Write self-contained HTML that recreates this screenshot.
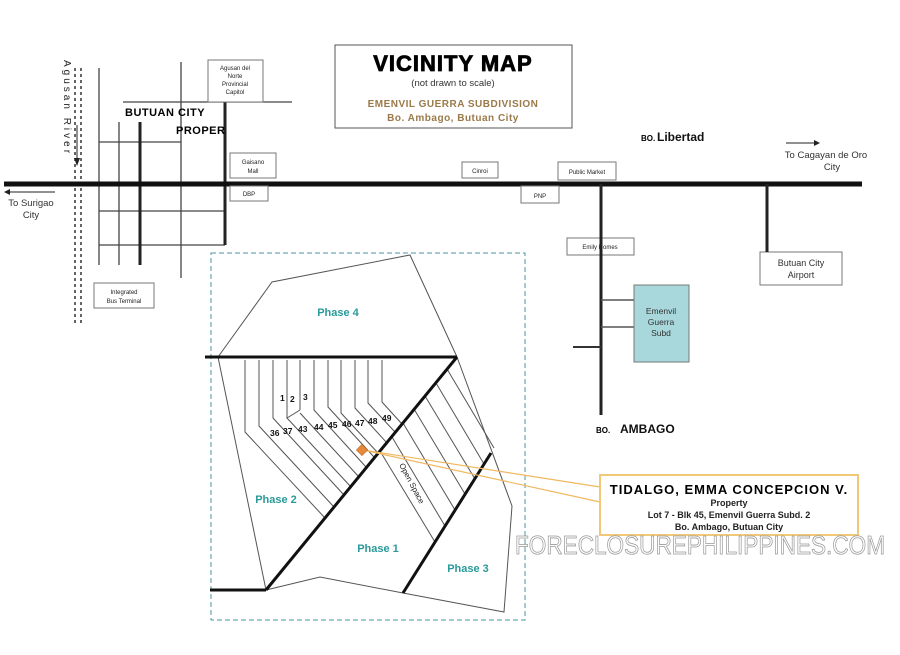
<!DOCTYPE html>
<html><head><meta charset="utf-8"><style>
html,body{margin:0;padding:0;background:#fff;}
svg{display:block;}
text{font-family:"Liberation Sans",Arial,sans-serif;}
</style></head><body>
<svg width="900" height="655" viewBox="0 0 900 655" xmlns="http://www.w3.org/2000/svg">
<rect width="900" height="655" fill="#fff"/>
<line x1="75" y1="68" x2="75" y2="326" stroke="#333" stroke-width="1.5" stroke-dasharray="3,3"/>
<line x1="81" y1="68" x2="81" y2="326" stroke="#333" stroke-width="1.5" stroke-dasharray="3,3"/>
<text x="0" y="0" font-size="10" fill="#222" letter-spacing="3" transform="translate(64,60) rotate(90)">Agusan  River</text>
<line x1="77" y1="125" x2="77" y2="160" stroke="#222" stroke-width="1"/>
<polygon points="74,158 80,158 77,166" fill="#222"/>
<g stroke="#444" stroke-width="1.3">
<line x1="99" y1="68" x2="99" y2="265"/>
<line x1="119" y1="122" x2="119" y2="265"/>
<line x1="181" y1="62" x2="181" y2="278"/>
<line x1="99" y1="142" x2="181" y2="142"/>
<line x1="99" y1="211" x2="225" y2="211"/>
<line x1="99" y1="245" x2="225" y2="245"/>
<line x1="123" y1="102" x2="292" y2="102"/>
</g>
<line x1="140" y1="122" x2="140" y2="265" stroke="#222" stroke-width="3"/>
<line x1="225" y1="102" x2="225" y2="245" stroke="#222" stroke-width="3"/>
<text x="125" y="116" font-size="11" font-weight="bold" letter-spacing="0.5">BUTUAN CITY</text>
<text x="176" y="134" font-size="11" font-weight="bold" letter-spacing="0.5">PROPER</text>
<line x1="4" y1="184" x2="862" y2="184" stroke="#111" stroke-width="5"/>
<line x1="8" y1="192" x2="55" y2="192" stroke="#222" stroke-width="1"/>
<polygon points="4,192 10,189 10,195" fill="#222"/>
<text x="31" y="206" font-size="9.5" text-anchor="middle" fill="#333">To Surigao</text>
<text x="31" y="218" font-size="9.5" text-anchor="middle" fill="#333">City</text>
<line x1="786" y1="143" x2="815" y2="143" stroke="#222" stroke-width="1"/>
<polygon points="820,143 814,140 814,146" fill="#222"/>
<text x="826" y="158" font-size="9.5" text-anchor="middle" fill="#333">To  Cagayan de Oro</text>
<text x="832" y="170" font-size="9.5" text-anchor="middle" fill="#333">City</text>
<g fill="#fff" stroke="#777" stroke-width="1">
<rect x="208" y="60" width="55" height="42"/>
<rect x="230" y="153" width="46" height="25"/>
<rect x="230" y="186" width="38" height="15"/>
<rect x="94" y="283" width="60" height="25"/>
<rect x="462" y="162" width="36" height="16"/>
<rect x="558" y="162" width="58" height="18"/>
<rect x="521" y="186" width="38" height="17"/>
<rect x="567" y="238" width="67" height="17"/>
<rect x="760" y="252" width="82" height="33"/>
</g>
<g font-size="6" text-anchor="middle" fill="#222">
<text x="235" y="70">Agusan del</text><text x="235" y="78">Norte</text><text x="235" y="86">Provincial</text><text x="235" y="94">Capitol</text>
<text x="253" y="164">Gaisano</text><text x="253" y="173">Mall</text>
<text x="249" y="196">DBP</text>
<text x="124" y="294">Integrated</text><text x="124" y="303">Bus Terminal</text>
<text x="480" y="173">Cinroi</text>
<text x="587" y="174">Public Market</text>
<text x="540" y="198">PNP</text>
<text x="600" y="249">Emily Homes</text>
</g>
<text x="801" y="266" font-size="9" text-anchor="middle" fill="#333">Butuan City</text>
<text x="801" y="278" font-size="9" text-anchor="middle" fill="#333">Airport</text>
<rect x="335" y="45" width="237" height="83" fill="#fff" stroke="#555" stroke-width="1"/>
<text x="453" y="71" font-size="22" font-weight="bold" text-anchor="middle" stroke="#000" stroke-width="0.8" letter-spacing="1">VICINITY MAP</text>
<text x="453" y="86" font-size="9.5" text-anchor="middle" fill="#333">(not drawn to scale)</text>
<text x="453" y="107" font-size="10" font-weight="bold" text-anchor="middle" fill="#9a7a4a" letter-spacing="0.5">EMENVIL GUERRA SUBDIVISION</text>
<text x="453" y="121" font-size="10" font-weight="bold" text-anchor="middle" fill="#9a7a4a" letter-spacing="0.5">Bo. Ambago, Butuan City</text>
<text x="641" y="141" font-size="8" font-weight="bold">BO.</text>
<text x="657" y="141" font-size="12" font-weight="bold" fill="#111">Libertad</text>
<line x1="601" y1="184" x2="601" y2="415" stroke="#222" stroke-width="3"/>
<line x1="767" y1="184" x2="767" y2="252" stroke="#222" stroke-width="3"/>
<line x1="601" y1="300" x2="634" y2="300" stroke="#555" stroke-width="1.5"/>
<line x1="601" y1="327" x2="634" y2="327" stroke="#555" stroke-width="1.5"/>
<line x1="573" y1="347" x2="601" y2="347" stroke="#333" stroke-width="2"/>
<rect x="634" y="285" width="55" height="77" fill="#a8d8dc" stroke="#777"/>
<text x="661" y="314" font-size="8.5" text-anchor="middle" fill="#333">Emenvil</text>
<text x="661" y="325" font-size="8.5" text-anchor="middle" fill="#333">Guerra</text>
<text x="661" y="336" font-size="8.5" text-anchor="middle" fill="#333">Subd</text>
<text x="596" y="433" font-size="8" font-weight="bold">BO.</text>
<text x="620" y="433" font-size="12" font-weight="bold" fill="#111">AMBAGO</text>
<rect x="211" y="253" width="314" height="367" fill="none" stroke="#4a9aa0" stroke-width="1" stroke-dasharray="5,3"/>
<g fill="none" stroke="#555" stroke-width="1">
<polyline points="218,357 272,282 410,255 457,357"/>
<polyline points="218,357 266,590"/>
<polyline points="266,590 320,577 403,593 504,612 512,506 457,357"/>
<polyline points="245,360 245,432 325,518"/>
<polyline points="259,360 259,426 334,507"/>
<polyline points="273,360 273,418 344,495"/>
<polyline points="287,360 287,418 300,410"/>
<polyline points="300,360 300,410"/>
<polyline points="300,413 359,477"/>
<polyline points="287,418 351,487"/>
<polyline points="314,360 314,410 366,467"/>
<polyline points="328,360 328,407 374,457"/>
<polyline points="341,360 341,413 378,453"/>
<polyline points="355,360 355,408 387,443"/>
<polyline points="368,360 368,403 395,432"/>
<polyline points="382,360 382,402 402,424"/>
<line x1="380" y1="451" x2="435" y2="542"/>
<line x1="392" y1="437" x2="445" y2="526"/>
<line x1="403" y1="423" x2="455" y2="510"/>
<line x1="414" y1="409" x2="465" y2="494"/>
<line x1="425" y1="396" x2="475" y2="479"/>
<line x1="436" y1="383" x2="484" y2="464"/>
<line x1="447" y1="369" x2="494" y2="448"/>
</g>
<g stroke="#111" stroke-width="3" fill="none">
<line x1="205" y1="357" x2="457" y2="357"/>
<line x1="210" y1="590" x2="266" y2="590"/>
<line x1="266" y1="590" x2="457" y2="357"/>
<line x1="403" y1="593" x2="491" y2="453"/>
</g>
<g font-size="8.5" font-weight="bold" fill="#111">
<text x="280" y="401">1</text><text x="290" y="402">2</text><text x="303" y="400">3</text>
<text x="270" y="436">36</text><text x="283" y="434">37</text><text x="298" y="432">43</text><text x="314" y="430">44</text><text x="328" y="428">45</text><text x="342" y="427">46</text><text x="355" y="426">47</text><text x="368" y="424">48</text><text x="382" y="421">49</text>
</g>
<g font-size="11" font-weight="bold" fill="#2a9a9a" text-anchor="middle">
<text x="338" y="316">Phase 4</text>
<text x="276" y="503">Phase 2</text>
<text x="378" y="552">Phase 1</text>
<text x="468" y="572">Phase 3</text>
</g>
<text x="0" y="0" font-size="8" fill="#222" transform="translate(399,465) rotate(62)">Open Space</text>
<line x1="363" y1="450" x2="600" y2="487" stroke="#f0b860" stroke-width="1.2"/>
<line x1="363" y1="450" x2="600" y2="502" stroke="#f0b860" stroke-width="1.2"/>
<rect x="358" y="446" width="8" height="8" fill="#e8883a" stroke="#b06020" stroke-width="0.5" transform="rotate(45 362 450)"/>
<rect x="600" y="475" width="258" height="60" fill="#fff" stroke="#f0c878" stroke-width="2"/>
<text x="729" y="494" font-size="13" font-weight="bold" text-anchor="middle" letter-spacing="1">TIDALGO, EMMA CONCEPCION V.</text>
<text x="729" y="506" font-size="9" font-weight="bold" text-anchor="middle" fill="#222">Property</text>
<text x="729" y="518" font-size="9" font-weight="bold" text-anchor="middle" fill="#222">Lot 7 - Blk 45, Emenvil Guerra Subd. 2</text>
<text x="729" y="530" font-size="9" font-weight="bold" text-anchor="middle" fill="#222">Bo. Ambago, Butuan City</text>
<text x="515" y="554" font-size="26" textLength="370" lengthAdjust="spacingAndGlyphs" fill="#fff" stroke="#999" stroke-width="0.8">FORECLOSUREPHILIPPINES.COM</text>
</svg>
</body></html>
